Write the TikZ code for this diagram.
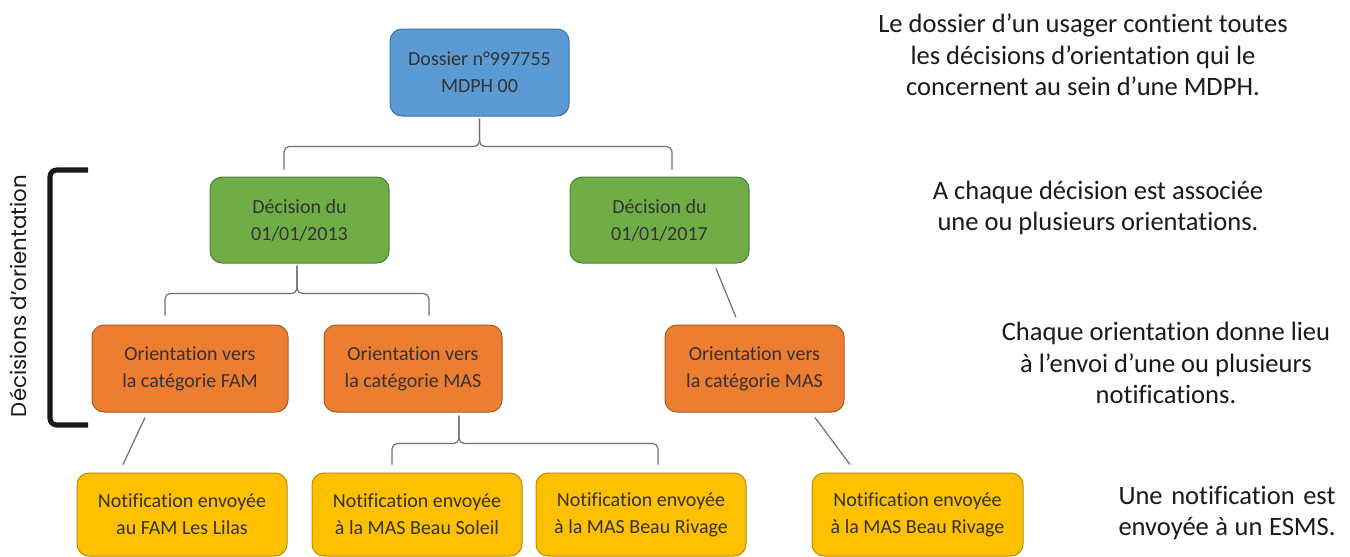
\documentclass[tikz,border=0pt]{standalone}
\usepackage{fontspec}
\setmainfont{Carlito}[Ligatures={NoCommon,NoContextual}]
\newfontfamily\gothic{Poppins}
\usetikzlibrary{calc}
\definecolor{bluef}{HTML}{5B9BD5}\definecolor{blued}{HTML}{41719C}
\definecolor{greenf}{HTML}{70AD47}\definecolor{greend}{HTML}{507E32}
\definecolor{orangef}{HTML}{ED7D31}\definecolor{oranged}{HTML}{AE5A21}
\definecolor{yellowf}{HTML}{FFC000}\definecolor{yellowd}{HTML}{BC8C00}
\definecolor{boxtext}{HTML}{333333}
\definecolor{conncol}{HTML}{707070}
\definecolor{notetext}{HTML}{1A1A1A}
\tikzset{
  card/.style={rounded corners=9pt, line width=0.75pt, align=center, text=boxtext,
    font=\fontsize{15pt}{20.25pt}\selectfont, inner sep=0pt},
  bluebox/.style={card, fill=bluef, draw=blued},
  greenbox/.style={card, fill=greenf, draw=greend},
  orangebox/.style={card, fill=orangef, draw=oranged},
  yellowbox/.style={card, fill=yellowf, draw=yellowd},
  conn/.style={draw=conncol, line width=0.9pt, rounded corners=4pt},
  note/.style={align=center, text=notetext, font=\fontsize{19.9pt}{23.5pt}\selectfont, inner sep=0pt},
}
\begin{document}
\begin{tikzpicture}[x=0.75pt,y=-0.75pt]
\useasboundingbox[fill=white] (0,0) rectangle (1350,557);

% boxes
\node[bluebox, minimum width=179*0.75pt, minimum height=87*0.75pt] (dos) at (479.5,72.5) {Dossier n°997755\\MDPH 00};
\node[greenbox, minimum width=179*0.75pt, minimum height=86*0.75pt] (g1) at (299.5,220) {Décision du\\01/01/2013};
\node[greenbox, minimum width=179*0.75pt, minimum height=86*0.75pt] (g2) at (659.5,220) {Décision du\\01/01/2017};
\node[orangebox, minimum width=196*0.75pt, minimum height=87*0.75pt] (o1) at (190,368.5) {Orientation vers\\la catégorie FAM};
\node[orangebox, minimum width=178*0.75pt, minimum height=87*0.75pt] (o2) at (413,368.5) {Orientation vers\\la catégorie MAS};
\node[orangebox, minimum width=179*0.75pt, minimum height=87*0.75pt] (o3) at (754.5,368.5) {Orientation vers\\la catégorie MAS};
\node[yellowbox, minimum width=210*0.75pt, minimum height=83*0.75pt] (y1) at (182,514.5) {Notification envoyée\\au FAM Les Lilas};
\node[yellowbox, minimum width=210*0.75pt, minimum height=83*0.75pt] (y2) at (417,514.5) {Notification envoyée\\à la MAS Beau Soleil};
\node[yellowbox, minimum width=210*0.75pt, minimum height=83*0.75pt] (y3) at (641,514.5) {Notification envoyée\\à la MAS Beau Rivage};
\node[yellowbox, minimum width=211*0.75pt, minimum height=83*0.75pt] (y4) at (917.5,514.5) {Notification envoyée\\à la MAS Beau Rivage};

% brace: dossier -> decisions
\coordinate (aT) at ($(dos.south)+(0,2)$);
\coordinate (aM) at ($(dos.south)+(0,30)$);
\coordinate (aL) at ($(g1.north)+(-15.5,-7)$);
\coordinate (aR) at ($(g2.north)+(12.5,-7)$);
\draw[conn] (aL) -- (aL |- aM) -- (aM) -- (aT);
\draw[conn] (aR) -- (aR |- aM) -- (aM) -- (aT);

% brace: decision 2013 -> orientations
\coordinate (bT) at ($(g1.south)+(-2.5,2)$);
\coordinate (bM) at ($(g1.south)+(-2.5,30)$);
\coordinate (bL) at ($(o1.north)+(-25,-9)$);
\coordinate (bR) at ($(o2.north)+(16,-9)$);
\draw[conn] (bL) -- (bL |- bM) -- (bM) -- (bT);
\draw[conn] (bR) -- (bR |- bM) -- (bM) -- (bT);

% brace: orientation MAS -> notifications
\coordinate (cT) at ($(o2.south)+(46,3)$);
\coordinate (cM) at ($(o2.south)+(46,31)$);
\coordinate (cL) at ($(y2.north)+(-25,-8)$);
\coordinate (cR) at ($(y3.north)+(17,-8)$);
\draw[conn] (cL) -- (cL |- cM) -- (cM) -- (cT);
\draw[conn] (cR) -- (cR |- cM) -- (cM) -- (cT);

% single connectors
\draw[conn] ($(o1.south)+(-45,5)$) -- ($(y1.north)+(-59,-8)$);
\draw[conn] ($(g2.south)+(56.5,5)$) -- ($(o3.north)+(-18.5,-7)$);
\draw[conn] ($(o3.south)+(60.5,5)$) -- ($(y4.north)+(-67.5,-8)$);

% left bracket and label
\draw[line width=3.8pt, rounded corners=5pt, draw=black!90] (88,170) -- (50,170) -- (50,425) -- (88,425);
\node[rotate=90, inner sep=0pt, text=notetext] (lab) at (18.5,296) {\resizebox{181.5pt}{!}{\gothic Décisions d’orientation}};

% notes
\node[note] (n1) at (1083,55) {Le dossier d’un usager contient toutes\\les décisions d’orientation qui le\\concernent au sein d’une MDPH.};
\node[note] (n2) at (1098,208) {A chaque décision est associée\\une ou plusieurs orientations.};
\node[note] (n3) at (1166,363) {Chaque orientation donne lieu\\à l’envoi d’une ou plusieurs\\notifications.};
\node[note] (n4) at (1227,513) {\makebox[162.75pt][s]{Une notification est}\\\makebox[162.75pt][s]{envoyée à un ESMS.}};
\end{tikzpicture}
\end{document}
